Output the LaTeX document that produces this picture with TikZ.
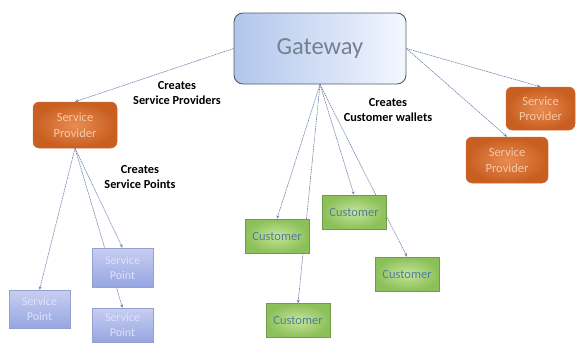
\documentclass[tikz,border=0pt]{standalone}
\usepackage{fontspec}
\setmainfont{Carlito}
\usetikzlibrary{arrows.meta,backgrounds}
\definecolor{gwL}{RGB}{176,198,236}
\definecolor{gwR}{RGB}{244,247,254}
\definecolor{gwBorder}{RGB}{85,92,110}
\definecolor{gwText}{RGB}{118,128,145}
\definecolor{orIn}{RGB}{232,140,82}
\definecolor{orOut}{RGB}{200,94,32}
\definecolor{orBorder}{RGB}{205,110,60}
\definecolor{orText}{RGB}{246,200,168}
\definecolor{bpTop}{RGB}{200,206,242}
\definecolor{bpBot}{RGB}{150,166,226}
\definecolor{bpBorder}{RGB}{150,160,205}
\definecolor{bpText}{RGB}{222,226,248}
\definecolor{grIn}{RGB}{198,228,156}
\definecolor{grOut}{RGB}{140,192,88}
\definecolor{grBorder}{RGB}{112,155,74}
\definecolor{grText}{RGB}{80,126,148}
\definecolor{lineC}{RGB}{112,132,172}
\begin{document}
\begin{tikzpicture}[x=1pt,y=-1pt,
  gateway/.style={draw=gwBorder, line width=0.9pt, rounded corners=9pt,
    left color=gwL, right color=gwR, minimum width=172pt, minimum height=71pt,
    inner sep=0pt, text=gwText, font=\fontsize{24.5}{27}\selectfont},
  provider/.style={draw=orBorder, line width=0.5pt, rounded corners=6pt,
    shading=radial, inner color=orIn, outer color=orOut, inner sep=0pt,
    align=center, text=orText, font=\fontsize{12.5}{15.5}\selectfont},
  spoint/.style={draw=bpBorder, line width=0.5pt, top color=bpTop, bottom color=bpBot,
    minimum width=61pt, inner sep=0pt, align=center, text=bpText,
    font=\fontsize{12}{15}\selectfont},
  customer/.style={draw=grBorder, line width=0.5pt, shading=radial, inner color=grIn,
    outer color=grOut, minimum width=64pt, minimum height=34pt, inner sep=0pt,
    text=grText, font=\fontsize{12.5}{14}\selectfont},
  conn/.style={draw=lineC, line width=0.6pt, dash pattern=on 1.6pt off 0.7pt,
    -{Stealth[length=3.5pt,width=3pt]}},
  lbl/.style={align=center, font=\bfseries\fontsize{12.3}{14.5}\selectfont, text=black}
]
\useasboundingbox (0,0) rectangle (582,343);

\node[gateway] (gw) at (320,48.5) {Gateway};

\node[provider, minimum width=84pt, minimum height=46pt] (spl) at (75,125) {Service\\Provider};
\node[provider, minimum width=69pt, minimum height=43pt] (spr1) at (540.5,108.5) {Service\\Provider};
\node[provider, minimum width=82pt, minimum height=46pt] (spr2) at (507,160) {Service\\Provider};

\node[spoint, minimum height=38pt] (pt1) at (39.5,309) {Service\\Point};
\node[spoint, minimum height=39pt] (pt2) at (122.5,267.5) {Service\\Point};
\node[spoint, minimum height=34pt] (pt3) at (122.5,325) {Service\\Point};

\node[customer] (c1) at (277,236) {Customer};
\node[customer] (c2) at (354,212) {Customer};
\node[customer] (c3) at (407,274) {Customer};
\node[customer] (c4) at (298,320.5) {Customer};

\node[lbl] (l1) at (177,93) {Creates\\Service Providers};
\node[lbl] (l2) at (140,177) {Creates\\Service Points};
\node[lbl] (l3) at (388,110) {Creates\\Customer wallets};

\begin{scope}[on background layer]
  \draw[conn] (gw.west) -- (spl.north);
  \draw[conn] (gw.east) -- (spr1.north);
  \draw[conn] (gw.east) -- (spr2.north);
  \draw[conn] (gw.south) -- (c1.north);
  \draw[conn] (gw.south) -- (c4.north);
  \draw[conn] (gw.south) -- (c2.north);
  \draw[conn] (gw.south) -- (c3.north);
  \draw[conn] (spl.south) -- (pt1.north);
  \draw[conn] (spl.south) -- (pt2.north);
  \draw[conn] (spl.south) -- (pt3.north);
\end{scope}
\end{tikzpicture}
\end{document}
